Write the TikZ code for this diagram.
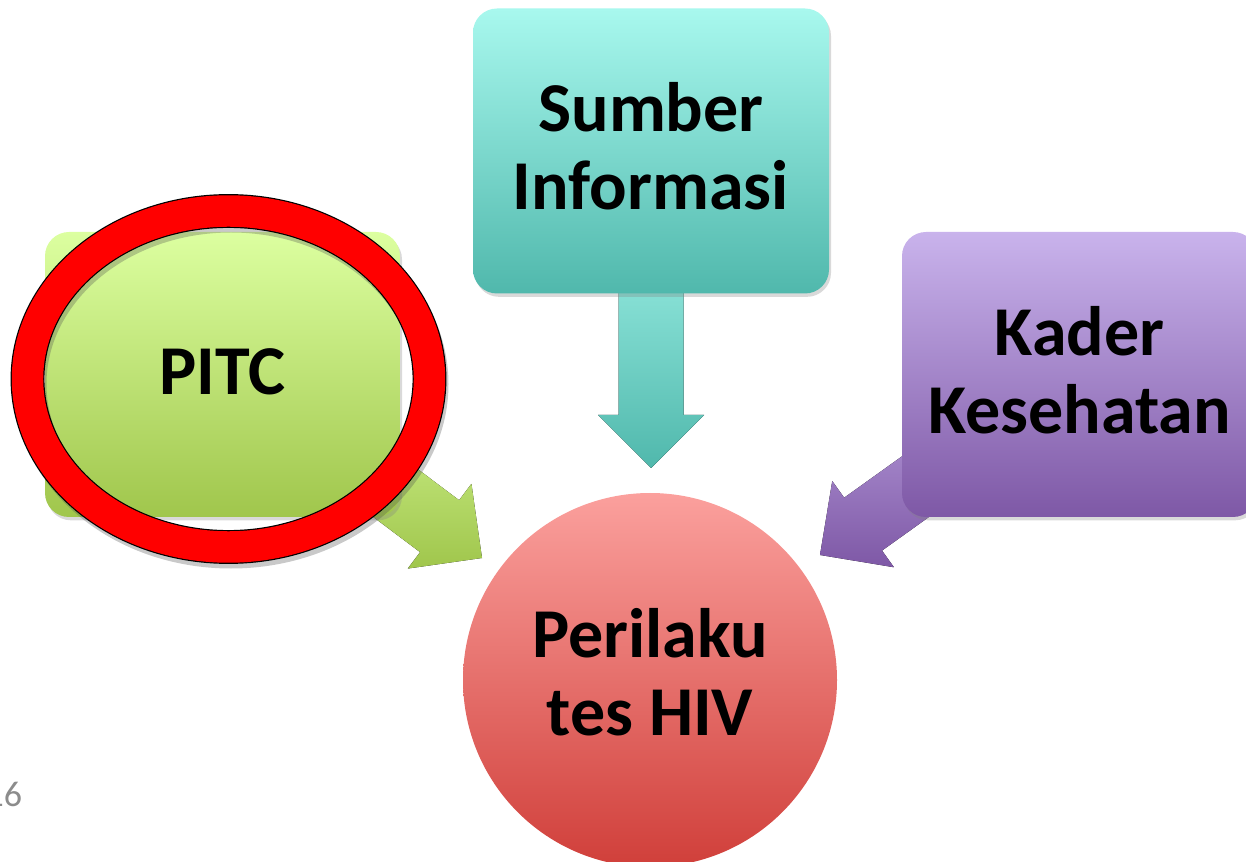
\documentclass[tikz,border=0pt]{standalone}
\usepackage{fontspec}
\setmainfont{Carlito}
\usetikzlibrary{shadows,shapes.geometric}

\definecolor{tealTop}{HTML}{A8F8EE}
\definecolor{tealBot}{HTML}{50B8AC}
\definecolor{greenTop}{HTML}{DCFFA0}
\definecolor{greenBot}{HTML}{A0C64C}
\definecolor{purpTop}{HTML}{C9B3EC}
\definecolor{purpBot}{HTML}{7E58A6}
\definecolor{pinkTop}{HTML}{FBA09D}
\definecolor{pinkBot}{HTML}{D03F3A}
\definecolor{ringRed}{HTML}{FF0000}
\definecolor{pageGray}{HTML}{8C8C8C}

\begin{document}
\begin{tikzpicture}[x=0.75pt,y=-0.75pt,
  labelfont/.style={font=\bfseries\fontsize{52.5}{58.5}\selectfont},
  factorbox/.style={rectangle, rounded corners=18pt, minimum width=266.25pt,
    minimum height=213.75pt, align=center, inner sep=0pt, labelfont,
    text depth=7.5pt,
    drop shadow={shadow xshift=1.5pt, shadow yshift=-2.5pt, opacity=.3}},
  outcome/.style={circle, minimum size=280.5pt, inner sep=0pt,
    top color=pinkTop, bottom color=pinkBot},
  outcometext/.style={align=center, inner sep=0pt, labelfont, text depth=12pt}
]
\useasboundingbox (0,0) rectangle (1246,862);

% tips of the three block arrows
\coordinate (tealtip)  at (651,468);
\coordinate (greentip) at (482,558);
\coordinate (purptip)  at (820,555);

% block arrows (drawn first, so the boxes cover their tails)
\begin{scope}[shift={(tealtip)}, rotate=-90]
  \fill[top color=tealTop!70!tealBot, bottom color=tealBot]
    (0,0) -- (-53,53) -- (-53,32.5) -- (-200,32.5) -- (-200,-32.5)
    -- (-53,-32.5) -- (-53,-53) -- cycle;
\end{scope}
\begin{scope}[shift={(greentip)}, rotate=-36.9]
  \fill[top color=greenTop!60!greenBot, bottom color=greenBot]
    (0,0) -- (-53,53) -- (-53,32.5) -- (-160,32.5) -- (-160,-32.5)
    -- (-53,-32.5) -- (-53,-53) -- cycle;
\end{scope}
\begin{scope}[shift={(purptip)}, rotate=-144.4]
  \fill[top color=purpTop!55!purpBot, bottom color=purpBot]
    (0,0) -- (-53,53) -- (-53,32.5) -- (-160,32.5) -- (-160,-32.5)
    -- (-53,-32.5) -- (-53,-53) -- cycle;
\end{scope}

% factor boxes
\node[factorbox, top color=tealTop, bottom color=tealBot, minimum width=267pt]
  (sumber) at (651,151) {Sumber\\Informasi};
\node[factorbox, top color=greenTop, bottom color=greenBot, text depth=4.5pt]
  (pitc) at (222.5,374.5) {PITC};
\node[factorbox, top color=purpTop, bottom color=purpBot]
  (kader) at (1079.5,374.5) {Kader\\Kesehatan};

% outcome
\node[outcome] (hiv) at (650,680) {};
\node[outcometext] (hivtext) at (hiv.center) {Perilaku\\tes HIV};

% highlight ring around PITC, with its shadow
\node[ellipse, inner sep=0pt, minimum width=301.5pt, minimum height=252pt,
  draw=black!70, line width=24.75pt, opacity=.3] (ringshadow) at (231,384) {};
\node[ellipse, inner sep=0pt, minimum width=301.5pt, minimum height=252pt,
  draw=black, line width=0.9pt, double=ringRed, double distance=23.6pt]
  (ring) at (228.5,379) {};

% slide number
\node[anchor=base west, inner sep=0pt, text=pageGray,
  font=\fontsize{27}{30}\selectfont] (pagenum) at (-14.7,806) {16};
\end{tikzpicture}
\end{document}
